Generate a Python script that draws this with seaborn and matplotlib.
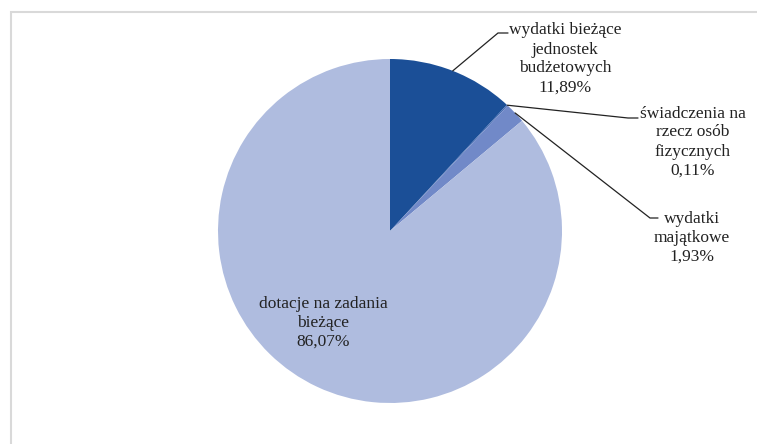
import numpy as np
import matplotlib
matplotlib.use("Agg")
import matplotlib.pyplot as plt
import seaborn as sns
from matplotlib.patches import Rectangle

sns.set_theme(style="white")
plt.rcParams['font.family'] = ['Liberation Serif', 'DejaVu Serif']

categories = ["wydatki bieżące\njednostek\nbudżetowych",
              "świadczenia na\nrzecz osób\nfizycznych",
              "wydatki\nmajątkowe",
              "dotacje na zadania\nbieżące"]
values = [11.89, 0.11, 1.93, 86.07]
colors = ["#1B4F97", "#3F67B0", "#7189C8", "#AFBCDF"]

W, H = 757, 444
cx, cy, R = 390, 231, 172


def px(x, y):
    # piksele obrazka -> współrzędne danych
    return (x - cx) / R, (cy - y) / R


fig = plt.figure(figsize=(W / 100, H / 100), dpi=100)
ax = fig.add_axes([0, 0, 1, 1])

wedges, _ = ax.pie(values, colors=colors, startangle=90, counterclock=False,
                   wedgeprops={"linewidth": 0})
ax.set_aspect("auto")
ax.set_xlim(-cx / R, (W - cx) / R)
ax.set_ylim(-(H - cy) / R, cy / R)
ax.axis("off")

labels = [f"{c}\n{v:.2f}%".replace(".", ",") for c, v in zip(categories, values)]

# pozycje etykiet i łamania linii (w pikselach)
text_pos = [(565, 59), (693, 142), (692, 238), (323, 323)]
elbows = [((498, 33), (508, 33)), ((628, 118), (638, 118)),
          ((650, 218), (658, 218)), None]

for w, lab, tp, el in zip(wedges, labels, text_pos, elbows):
    tx, ty = px(*tp)
    ax.text(tx, ty, lab, ha="center", va="center", fontsize=12.5,
            color="#222222", linespacing=1.25)
    if el is not None:
        ang = np.deg2rad((w.theta1 + w.theta2) / 2)
        sx, sy = np.cos(ang), np.sin(ang)
        (ex1, ey1), (ex2, ey2) = px(*el[0]), px(*el[1])
        ax.plot([sx, ex1, ex2], [sy, ey1, ey2], color="#222222", lw=0.9,
                solid_joinstyle="miter")

fig.patches.append(Rectangle((10.5 / W, -0.2), 2, 1.2 - 12 / H, transform=fig.transFigure,
                             fill=False, edgecolor="#D9D9D9", linewidth=1.5))

plt.savefig("out.png", dpi=100)
plt.close()
